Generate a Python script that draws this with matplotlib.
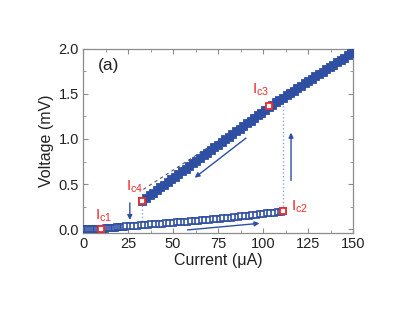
import matplotlib
matplotlib.use('Agg')
import matplotlib.pyplot as plt
from matplotlib.ticker import MultipleLocator

plt.rcParams['font.family'] = ['Liberation Sans', 'DejaVu Sans']
plt.rcParams['mathtext.fontset'] = 'custom'
plt.rcParams['mathtext.rm'] = 'Liberation Sans'
plt.rcParams['mathtext.it'] = 'Liberation Sans'

# lower (superconducting / low-voltage) branch, sweep up
I_up = [0, 1, 2, 3, 4, 5, 6, 7, 8, 9, 10, 11, 12, 13, 14, 15, 16, 17, 18, 19, 20,
        21, 22, 23, 24, 26, 28, 30, 32, 34, 36, 38, 40, 42, 44, 46, 48, 50, 52,
        54, 56, 58, 60, 62, 64, 66, 68, 70, 72, 74, 76, 78, 80, 82, 84, 86, 88,
        90, 92, 94, 96, 98, 100, 102, 104, 106, 108, 110, 111]
V_up = [0, 0, 0, 0, 0, 0, 0, 0, 0, 0, 0, 0.002, 0.004, 0.006, 0.008, 0.010,
        0.012, 0.014, 0.016, 0.018, 0.020, 0.022, 0.024, 0.026, 0.028, 0.032,
        0.035, 0.038, 0.041, 0.045, 0.048, 0.051, 0.054, 0.058, 0.061, 0.064,
        0.067, 0.070, 0.074, 0.077, 0.080, 0.083, 0.086, 0.090, 0.093, 0.096,
        0.099, 0.102, 0.106, 0.109, 0.112, 0.117, 0.121, 0.126, 0.131, 0.136,
        0.140, 0.145, 0.150, 0.154, 0.159, 0.164, 0.168, 0.173, 0.178, 0.183,
        0.187, 0.192, 0.195]

# upper (resistive) branch
I_res = [33, 35, 37, 39, 41, 43, 45, 47, 49, 51, 53, 55, 57, 59, 61, 63, 65, 67,
         69, 71, 73, 75, 77, 79, 81, 83, 85, 87, 89, 91, 93, 95, 97, 99, 101, 103,
         105, 107, 109, 111, 113, 115, 117, 119, 121, 123, 125, 127, 129, 131, 133,
         135, 137, 139, 141, 143, 145, 147, 149, 150]
V_res = [0.315, 0.345, 0.374, 0.404, 0.433, 0.463, 0.493, 0.522, 0.552, 0.581,
         0.611, 0.641, 0.670, 0.700, 0.729, 0.759, 0.789, 0.818, 0.848, 0.877,
         0.907, 0.937, 0.966, 0.996, 1.025, 1.055, 1.085, 1.114, 1.144, 1.173,
         1.203, 1.233, 1.262, 1.292, 1.321, 1.351, 1.381, 1.407, 1.433, 1.459,
         1.486, 1.512, 1.538, 1.564, 1.590, 1.617, 1.643, 1.669, 1.695, 1.721,
         1.748, 1.774, 1.800, 1.826, 1.852, 1.879, 1.905, 1.931, 1.957, 1.970]

# critical current points
ic_names = ['c1', 'c2', 'c3', 'c4']
ic_I = [10, 111, 103.5, 33]
ic_V = [0.0, 0.195, 1.365, 0.315]
ic_label_pos = [(6.5, 0.10), (115.5, 0.21), (94, 1.50), (24, 0.43)]

blue = '#2f4fa3'
red = '#ee2b2b'
gray = '#8c8c8c'

fig = plt.figure(figsize=(4.15, 3.12), dpi=100)
ax = fig.add_axes([0.2, 0.253, 0.651, 0.59])

ax.plot(I_up, V_up, 's', ms=3.9, mfc='white', mec=blue, mew=1.2, zorder=3)
ax.plot(I_res, V_res, 's', ms=5.6, mfc=blue, mec=blue, mew=0.6, zorder=3)

# guides
ax.plot([33.5, 100], [0.44, 1.30], ls=(0, (3, 3)), color='#555555', lw=0.8, zorder=2)
ax.plot([33, 33], [0.05, 0.30], ls=':', color='#8fa3d6', lw=1.0, zorder=2)
ax.plot([111, 111], [0.21, 1.42], ls=':', color='#8fa3d6', lw=1.0, zorder=2)

# sweep arrows
arrows = [((26, 0.29), (26, 0.10)),
          ((115.5, 0.54), (115.5, 1.07)),
          ((90.5, 1.01), (62, 0.57)),
          ((58, -0.01), (98, 0.063))]
for start, end in arrows:
    ax.annotate('', xy=end, xytext=start,
                arrowprops=dict(arrowstyle='-|>', color=blue, lw=1.0,
                                mutation_scale=7, shrinkA=0, shrinkB=0))

ax.plot(ic_I, ic_V, 's', ms=4.6, mfc='white', mec=red, mew=1.3, zorder=4)
for name, (x, y) in zip(ic_names, ic_label_pos):
    ax.text(x, y, r'I$_{\mathregular{' + name + '}}$', color=red, fontsize=11,
            va='baseline', ha='left')

ax.text(8.5, 1.82, '(a)', fontsize=12.5, va='center', ha='left', color='#222222')

ax.set_xlim(0, 150)
ax.set_ylim(-0.045, 2.0)
ax.xaxis.set_major_locator(MultipleLocator(25))
ax.xaxis.set_minor_locator(MultipleLocator(12.5))
ax.yaxis.set_major_locator(MultipleLocator(0.5))
ax.yaxis.set_minor_locator(MultipleLocator(0.25))
ax.yaxis.set_major_formatter(matplotlib.ticker.FormatStrFormatter('%.1f'))
ax.tick_params(which='both', direction='in', top=True, right=True, color=gray,
               labelsize=10.5, labelcolor='#222222', pad=3)
ax.tick_params(which='major', length=3.5, width=0.8)
ax.tick_params(which='minor', length=2, width=0.6)
for sp in ax.spines.values():
    sp.set_color(gray)
    sp.set_linewidth(0.9)

ax.set_xlabel(u'Current (\u03bcA)', fontsize=11.5, color='#222222', labelpad=1)
ax.set_ylabel('Voltage (mV)', fontsize=11.5, color='#222222', labelpad=3)

fig.savefig('out.png', dpi=100)
